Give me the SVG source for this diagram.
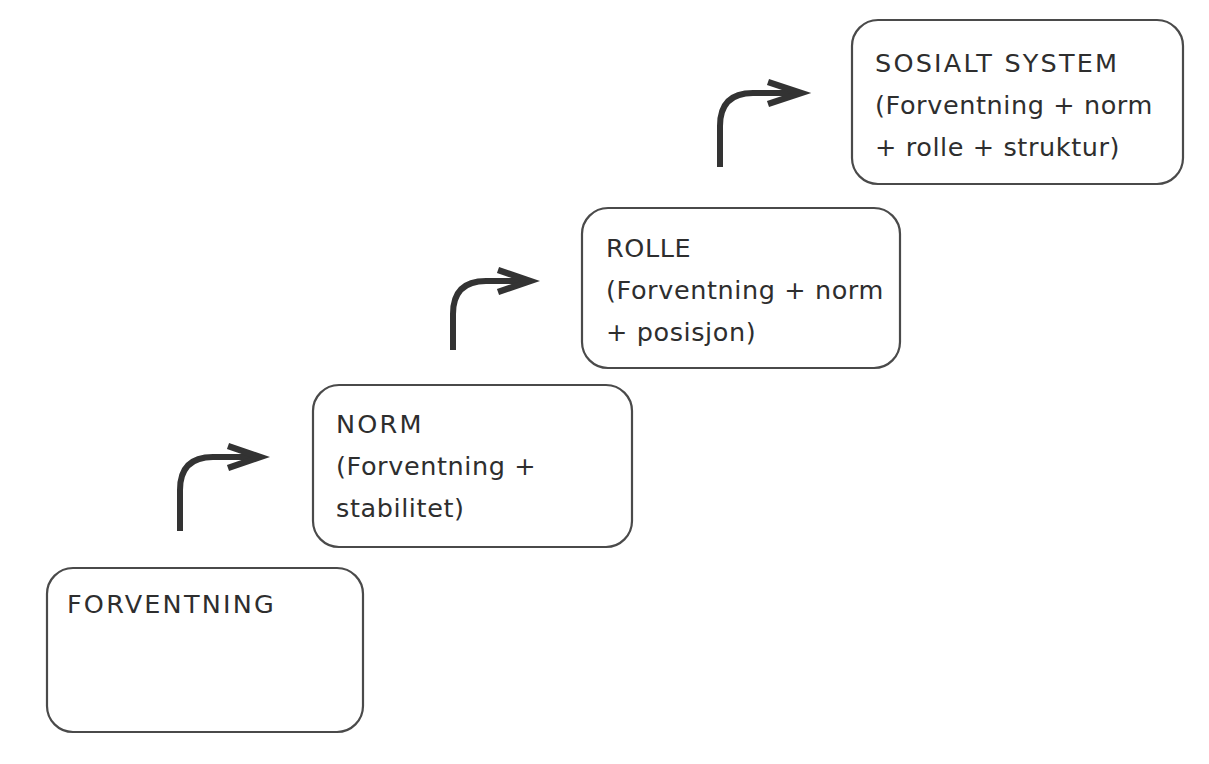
<svg xmlns="http://www.w3.org/2000/svg" width="1209" height="764" viewBox="0 0 1209 764">
<style>
.box{fill:#fff;stroke:#4a4a4a;stroke-width:2.2}
.t{font-family:"DejaVu Sans","Liberation Sans",sans-serif;font-size:25.5px;fill:#2e2e2e;letter-spacing:0.6px}
.c{letter-spacing:2.2px}
.arr{fill:none;stroke:#333;stroke-width:6;stroke-linecap:butt}
.head{fill:none;stroke:#333;stroke-width:6.5;stroke-linejoin:miter}
</style>
<rect width="1209" height="764" fill="#fff"/>
<g id="connectors">
<path class="arr" d="M180,531 V490 Q180,457 213,457 H256"/>
<path class="head" d="M228,446 L260,457 L228,468"/>
<path class="arr" d="M453,350 V314 Q453,281 486,281 H526"/>
<path class="head" d="M498,270 L530,281 L498,292"/>
<path class="arr" d="M720,167 V126 Q720,93 753,93 H797"/>
<path class="head" d="M768,82 L801,93 L768,104"/>
</g>
<g id="forventning">
<rect class="box" x="47" y="568" width="316" height="164" rx="26"/>
<text class="t c" x="67" y="613">FORVENTNING</text>
</g>
<g id="norm">
<rect class="box" x="313" y="385" width="319" height="162" rx="26"/>
<text class="t c" x="336" y="433">NORM</text>
<text class="t" x="336" y="475">(Forventning +</text>
<text class="t" x="336" y="517">stabilitet)</text>
</g>
<g id="rolle">
<rect class="box" x="582" y="208" width="318" height="160" rx="26"/>
<text class="t" x="606" y="257">ROLLE</text>
<text class="t" x="606" y="299">(Forventning + norm</text>
<text class="t" x="606" y="341">+ posisjon)</text>
</g>
<g id="sosialt">
<rect class="box" x="852" y="20" width="331" height="164" rx="26"/>
<text class="t c" x="875" y="72">SOSIALT SYSTEM</text>
<text class="t" x="875" y="114">(Forventning + norm</text>
<text class="t" x="875" y="156">+ rolle + struktur)</text>
</g>
</svg>
